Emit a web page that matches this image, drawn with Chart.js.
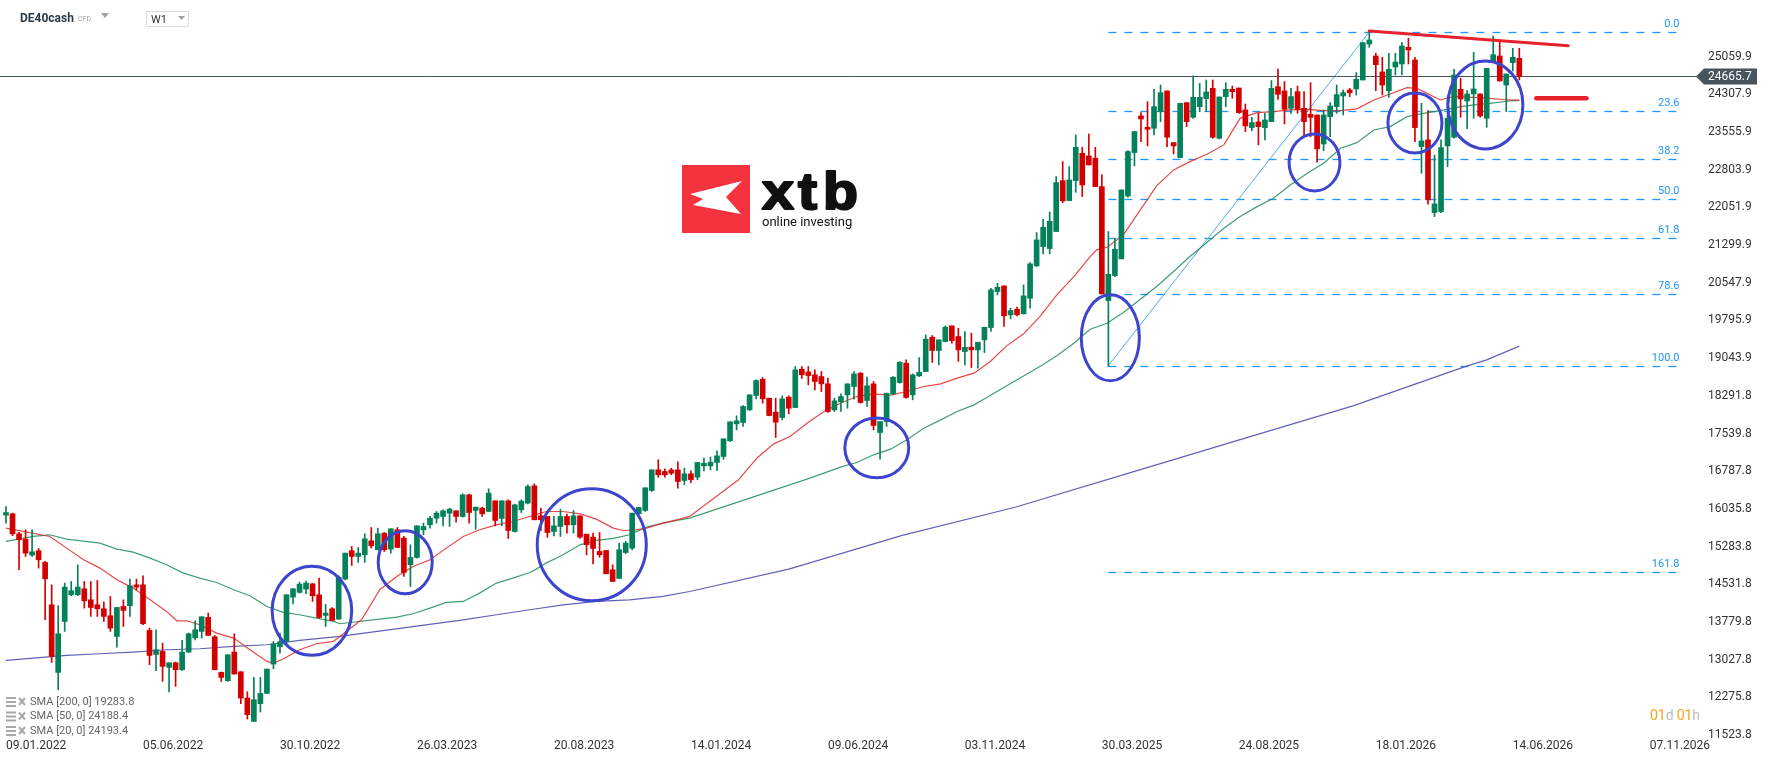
<!DOCTYPE html>
<html>
<head>
<meta charset="utf-8">
<title>DE40cash W1</title>
<script src="https://cdn.jsdelivr.net/npm/chart.js@4.4.1/dist/chart.umd.min.js"></script>
<style>
  html, body { margin: 0; padding: 0; background: #fff; }
  #wrap { position: relative; width: 1768px; height: 761px; }
</style>
</head>
<body>
<div id="wrap"><canvas id="chart"></canvas></div>
<script>
// weekly candles, index 0 = week of 09.01.2022
const xTickLabels = ['09.01.2022', '05.06.2022', '30.10.2022', '26.03.2023', '20.08.2023', '14.01.2024',
  '09.06.2024', '03.11.2024', '30.03.2025', '24.08.2025', '18.01.2026', '14.06.2026', '07.11.2026'];
const weeksPerTick = 21;

const yTickLabels = ['25059.9', '24307.9', '23555.9', '22803.9', '22051.9', '21299.9', '20547.9', '19795.9',
  '19043.9', '18291.8', '17539.8', '16787.8', '16035.8', '15283.8', '14531.8', '13779.8', '13027.8',
  '12275.8', '11523.8'];

// [open, high, low, close]
const ohlc = [
  [15911, 16084, 15752, 15964], [15938, 15951, 15500, 15539], [15539, 15566, 14821, 15419], [15432, 15619, 15087, 15153],
  [15113, 15619, 15087, 15180], [15200, 15246, 14854, 15020], [14967, 14990, 13823, 14641], [14122, 14521, 12972, 13092],
  [12773, 14103, 12427, 13544], [13790, 14555, 13591, 14475], [14322, 14588, 14302, 14402], [14322, 14920, 14302, 14475],
  [14442, 14588, 14056, 14202], [14222, 14588, 13890, 14069], [14122, 14608, 13890, 14043], [14043, 14182, 13790, 13890],
  [13903, 14289, 13591, 13657], [13491, 14069, 13278, 14069], [14089, 14222, 13690, 14010], [14103, 14635, 13890, 14502],
  [14521, 14635, 14420, 14475], [14521, 14701, 13724, 13744], [13611, 13657, 12926, 13112], [13132, 13624, 12806, 13225],
  [13192, 13358, 12593, 12893], [12873, 12966, 12381, 12966], [12966, 12980, 12494, 12826], [12826, 13411, 12813, 13178],
  [13178, 13560, 13172, 13544], [13464, 13803, 13420, 13624], [13591, 13883, 13458, 13883], [13870, 13956, 13511, 13511],
  [13484, 13511, 12826, 12826], [12773, 12780, 12593, 12673], [12607, 13125, 12593, 13125], [13178, 13544, 12740, 12740],
  [12786, 12786, 12148, 12261], [12261, 12387, 11842, 11928], [11795, 12673, 11795, 12228], [12148, 12673, 11982, 12354],
  [12354, 12839, 12350, 12839], [12939, 13391, 12846, 13338], [13285, 13557, 13158, 13385], [13391, 14322, 13358, 14322],
  [14275, 14442, 14142, 14442], [14369, 14575, 14355, 14535], [14435, 14595, 14342, 14555], [14541, 14545, 14189, 14302],
  [14322, 14655, 13857, 13870], [13910, 14129, 13690, 13956], [14043, 14069, 13810, 13810], [13837, 14701, 13830, 14674],
  [14634, 15153, 14620, 15153], [15200, 15286, 14907, 15087], [15087, 15266, 14967, 15153], [15120, 15539, 14967, 15439],
  [15399, 15665, 15253, 15299], [15220, 15652, 15220, 15539], [15552, 15565, 15186, 15220], [15233, 15639, 15153, 15639],
  [15619, 15665, 15266, 15266], [15453, 15486, 14688, 14767], [14920, 15319, 14488, 15067], [15067, 15698, 15053, 15698],
  [15618, 15752, 15519, 15685], [15718, 15885, 15652, 15851], [15851, 15984, 15752, 15951], [15885, 16017, 15698, 15998],
  [15951, 16051, 15685, 16031], [15998, 16000, 15771, 15885], [15885, 16337, 15871, 16317], [16317, 16330, 15752, 15964],
  [16005, 16071, 15632, 16071], [16051, 16071, 15885, 15938], [15984, 16436, 15978, 16350], [16197, 16197, 15698, 15805],
  [15845, 16197, 15698, 16197], [16197, 16217, 15446, 15605], [15585, 16131, 15572, 16117], [16017, 16217, 15964, 16191],
  [16151, 16516, 16137, 16483], [16496, 16536, 15818, 15818], [15898, 16051, 15605, 15818], [15885, 15885, 15466, 15565],
  [15585, 15885, 15499, 15698], [15685, 16031, 15486, 15885], [15885, 15931, 15552, 15718], [15718, 16004, 15552, 15898],
  [15898, 15898, 15446, 15472], [15532, 15532, 15120, 15320], [15472, 15552, 14940, 15246], [15187, 15565, 15073, 15120],
  [15206, 15206, 14741, 14741], [14821, 14920, 14588, 14588], [14648, 15353, 14648, 15220], [15166, 15386, 15140, 15353],
  [15253, 15951, 15220, 15951], [15938, 16071, 15918, 16064], [16004, 16457, 15984, 16457], [16403, 16815, 16383, 16815],
  [16815, 17015, 16669, 16716], [16782, 16835, 16669, 16716], [16815, 16848, 16716, 16749], [16815, 16975, 16450, 16583],
  [16603, 16848, 16516, 16736], [16736, 16796, 16560, 16620], [16669, 16962, 16616, 16962], [16895, 17048, 16796, 16948],
  [16895, 17068, 16815, 16968], [16962, 17195, 16802, 17095], [17082, 17434, 17028, 17434], [17394, 17773, 17381, 17773],
  [17733, 17893, 17613, 17793], [17760, 18099, 17680, 18079], [18012, 18312, 18000, 18312], [18298, 18611, 18232, 18597],
  [18624, 18657, 18145, 18232], [18245, 18245, 17893, 17899], [17966, 18245, 17461, 17766], [17859, 18292, 17813, 18232],
  [18265, 18292, 17933, 18045], [18059, 18877, 18059, 18810], [18824, 18877, 18637, 18711], [18770, 18877, 18511, 18697],
  [18711, 18810, 18411, 18578], [18677, 18777, 18378, 18531], [18531, 18644, 17959, 17979], [18012, 18245, 17979, 18192],
  [18172, 18332, 17979, 18278], [18312, 18531, 18045, 18531], [18478, 18777, 18225, 18730], [18744, 18757, 18145, 18159],
  [18199, 18664, 18079, 18491], [18531, 18578, 17613, 17700], [17560, 17780, 17028, 17780], [17780, 18345, 17680, 18345],
  [18332, 18677, 18312, 18664], [18557, 18976, 18544, 18962], [18943, 19010, 18245, 18259], [18312, 18730, 18212, 18710],
  [18690, 19057, 18677, 18763], [18777, 19509, 18777, 19422], [19462, 19495, 18957, 19196], [19196, 19409, 18910, 19409],
  [19376, 19688, 19369, 19661], [19688, 19688, 19342, 19395], [19475, 19642, 18980, 19209], [19176, 19575, 18910, 19262],
  [19262, 19542, 18857, 19209], [19209, 19362, 18844, 19362], [19409, 19661, 19156, 19661], [19655, 20439, 19575, 20406],
  [20373, 20539, 20306, 20459], [20486, 20486, 19675, 19888], [19908, 20041, 19828, 19994], [20021, 20061, 19888, 19908],
  [19928, 20506, 19928, 20287], [20240, 20952, 20041, 20925], [20885, 21550, 20872, 21404], [21271, 21816, 21124, 21656],
  [21231, 21962, 21124, 21776], [21570, 22667, 21570, 22547], [22587, 22966, 22148, 22181], [22188, 22866, 22188, 22600],
  [22587, 23498, 22354, 23252], [23132, 23252, 22268, 22501], [23079, 23518, 22900, 22900], [23033, 23252, 22467, 22467],
  [22467, 22700, 20326, 20326], [20193, 21570, 18880, 20718], [20692, 21437, 20672, 21218], [21025, 22401, 21025, 22401],
  [22281, 23186, 22255, 23166], [23146, 23565, 22880, 23565], [23877, 23944, 23365, 23817], [23651, 24163, 23279, 23611],
  [23631, 24409, 23498, 24063], [23963, 24495, 23764, 24342], [24376, 24376, 23265, 23452], [23345, 23345, 23119, 23279],
  [23046, 24130, 23046, 24130], [24143, 24143, 23664, 23764], [23850, 24675, 23830, 24249], [24063, 24528, 23963, 24249],
  [24223, 24595, 23963, 24356], [24429, 24595, 23432, 23452], [23432, 24256, 23418, 24256], [24263, 24542, 24063, 24409],
  [24409, 24475, 24229, 24362], [24435, 24435, 23930, 23944], [23997, 24116, 23565, 23678], [23645, 23850, 23585, 23744],
  [23758, 23930, 23299, 23664], [23645, 23930, 23398, 23797], [23764, 24582, 23764, 24429], [24462, 24814, 24209, 24309],
  [24376, 24562, 23717, 24010], [24030, 24429, 23930, 24263], [24362, 24475, 23930, 24010], [24030, 24362, 23465, 23764],
  [23910, 24542, 23465, 23850], [23897, 23897, 22953, 23219], [23318, 23997, 23186, 23897], [23864, 24143, 23465, 24076],
  [24063, 24495, 23930, 24302], [24276, 24396, 23897, 24342], [24396, 24429, 24263, 24342], [24416, 24741, 24296, 24608],
  [24595, 25340, 24595, 25340], [25313, 25560, 25247, 25393], [25074, 25127, 24382, 24901], [24755, 25047, 24296, 24495],
  [24382, 25127, 24249, 24808], [24854, 25127, 24695, 24954], [24914, 25340, 24695, 25273], [25247, 25426, 24914, 25194],
  [24994, 25047, 23365, 23645], [23266, 24130, 22733, 23379], [23399, 23984, 22115, 22202], [21949, 23099, 21869, 22122],
  [21969, 23399, 21949, 23246], [23279, 24263, 22866, 23831], [23452, 24808, 23432, 24695], [24409, 24628, 23851, 24216],
  [24176, 24382, 23625, 24316], [24316, 25147, 23831, 24416], [24316, 24316, 23851, 23877], [23831, 24828, 23651, 24828],
  [24947, 25473, 24947, 25100], [25074, 25360, 24575, 24575], [24495, 24715, 23964, 24715], [24941, 25227, 24774, 25047],
  [25027, 25227, 24595, 24666]
];

// moving averages: [week index, value]
const sma20 = [
  [0, 15652], [6.7, 15486], [9.3, 15253], [11.9, 15020], [14.4, 14854], [17, 14621], [19.5, 14455], [22.1, 14222],
  [24.6, 13990], [26.2, 13803], [27.7, 13803], [29.7, 13724], [32.3, 13557], [34.9, 13458], [37.4, 13225], [40, 12992],
  [41, 12959], [42.5, 13039], [45, 13225], [47.6, 13345], [50.2, 13391], [54.5, 13823], [57.3, 14422], [59.9, 14688],
  [62.4, 14887], [65, 15020], [67.5, 15253], [70.1, 15486], [72.6, 15619], [75.2, 15718], [77.7, 15785], [80.3, 15885],
  [82.8, 15984], [85.4, 15984], [88, 15938], [90.5, 15831], [93.1, 15652], [94.6, 15605], [96.6, 15619], [98.2, 15652],
  [100.7, 15752], [103.3, 15831], [104.8, 15885], [112.3, 16616], [115.1, 17048], [117.7, 17334], [120.2, 17481],
  [122.8, 17746], [125.4, 17979], [127.9, 18145], [130.4, 18278], [133, 18332], [135.6, 18305], [138.1, 18378],
  [140.7, 18478], [143.3, 18531], [145.8, 18644], [148.4, 18744], [150.9, 18977], [153.4, 19289], [156, 19529],
  [158.5, 19874], [161.1, 20307], [163.7, 20672], [166.2, 21071], [167.2, 21204], [168.8, 21257], [171.3, 21503],
  [173.9, 22002], [176.4, 22481], [179, 22800], [181.5, 22966], [184.1, 23112], [186.7, 23299], [189.2, 23830],
  [191.8, 23944], [194.3, 23964], [196.9, 23997], [199.5, 24010], [202, 23984], [204.6, 23984], [207.1, 24020],
  [209.7, 24196], [212.2, 24316], [214.8, 24442], [216.3, 24429], [217.3, 24362], [219.9, 24196], [221.4, 24249],
  [222.4, 24263], [225, 24249], [227.5, 24229], [230.1, 24196], [232, 24193]
];
const sma50 = [
  [0, 15386], [4.2, 15486], [6.7, 15519], [9.3, 15432], [14.4, 15353], [17, 15233], [19.5, 15173], [22.1, 15053],
  [24.6, 14920], [27.2, 14754], [29.7, 14655], [32.3, 14568], [34.9, 14422], [37.4, 14302], [40, 14089], [42.5, 13970],
  [45, 13923], [47.6, 13857], [50.2, 13790], [51.2, 13744], [57.3, 13836], [59.9, 13876], [62.4, 13943], [65, 14056],
  [67.5, 14169], [70.1, 14189], [72.6, 14355], [75.2, 14555], [77.7, 14655], [80.3, 14767], [81.3, 14834], [82.8, 14954],
  [85.4, 15120], [88, 15319], [90.5, 15406], [93.1, 15446], [95.6, 15519], [98.2, 15672], [100.7, 15752], [103.3, 15818],
  [104.8, 15851], [122.8, 16629], [125.4, 16749], [127.9, 16869], [130.4, 16962], [133, 17115], [135.6, 17228],
  [138.1, 17414], [140.7, 17647], [143.3, 17813], [145.8, 17979], [148.4, 18112], [149.9, 18225], [152.5, 18425],
  [155.4, 18644], [158.5, 18877], [161.1, 19090], [163.7, 19342], [166.2, 19621], [168.8, 19741], [171.3, 19954],
  [173.9, 20220], [176.4, 20473], [179, 20772], [181.5, 21071], [184.1, 21351], [186.7, 21636], [189.2, 21869],
  [191.8, 22068], [194.3, 22235], [196.9, 22501], [199.5, 22733], [202, 22933], [204.6, 23232], [207.1, 23345],
  [209.7, 23598], [212.2, 23664], [214.8, 23864], [217.3, 23930], [219.9, 23984], [222.4, 24050], [225, 24097],
  [227.5, 24130], [230.1, 24170], [232, 24188]
];
const sma200 = [
  [0, 13012], [4.2, 13059], [9.3, 13112], [14.4, 13145], [19.5, 13178], [24.6, 13225], [29.7, 13245], [34.9, 13291],
  [40, 13325], [45, 13411], [51.2, 13491], [70.1, 13823], [75.2, 13923], [80.3, 14023], [85.4, 14122], [90.5, 14189],
  [95.6, 14222], [100.7, 14289], [104.8, 14388], [120, 14833], [137.4, 15507], [154.7, 16069], [172, 16744],
  [189.2, 17418], [206.5, 18092], [223.8, 18880], [227, 19010], [232, 19284]
];

const lastPrice = '24665.7';
const smaLegend = ['SMA [200, 0] 19283.8', 'SMA [50, 0] 24188.4', 'SMA [20, 0] 24193.4'];

// drawing tools placed on the chart (week index / price)
const fibHigh = 25553, fibLow = 18896;
const fibLevels = [0, 23.6, 38.2, 50, 61.8, 78.6, 100, 161.8];
const fibFrom = 169, fibTo = 256.4, fibTopWeek = 209;
const trendLine = [[209, 25573], [239.5, 25279]];
const supportMark = [[234.6, 24230], [242.3, 24230]];
// [week, price, radius in weeks, radius in price]
const circles = [
  [46.9, 14003, 6.1, 888], [61.2, 14970, 4.14, 628], [89.8, 15319, 8.36, 1117], [133.5, 17254, 4.9, 598],
  [169.3, 19449, 4.45, 858], [200.6, 22949, 3.9, 569], [216, 23737, 4.14, 598], [226.8, 24097, 5.75, 878]
];

const GREEN = '#04805a';
const RED = '#d40000';

const bodies = ohlc.map((c, i) => ({ x: i, y: [c[0], c[3]] }));
const wicks = ohlc.map((c, i) => ({ x: i, y: [c[2], c[1]] }));
const candleColors = ohlc.map(c => (c[3] >= c[0] ? GREEN : RED));
const toPoints = arr => arr.map(p => ({ x: p[0], y: p[1] }));

function drawLogo(ctx) {
  ctx.save();
  ctx.fillStyle = '#f5333f';
  ctx.fillRect(682, 165, 68, 68);
  ctx.fillStyle = '#fff';
  ctx.beginPath();
  ctx.moveTo(690, 194);
  ctx.lineTo(742, 181);
  ctx.lineTo(726, 197);
  ctx.lineTo(741, 214);
  ctx.lineTo(693, 205);
  ctx.lineTo(703, 199);
  ctx.closePath();
  ctx.fill();
  ctx.fillStyle = '#111';
  ctx.strokeStyle = '#111';
  ctx.lineWidth = 2.2;
  ctx.lineJoin = 'round';
  ctx.font = 'bold 52px "Liberation Sans"';
  ctx.textBaseline = 'alphabetic';
  [['x', 762], ['t', 798], ['b', 823]].forEach(l => {
    ctx.save();
    ctx.translate(l[1], 209);
    ctx.scale(1.1, 1);
    ctx.fillText(l[0], 0, 0);
    ctx.strokeText(l[0], 0, 0);
    ctx.restore();
  });
  ctx.font = '13px Roboto';
  ctx.fillText('online investing', 762, 226);
  ctx.restore();
}

function triangle(ctx, x, y, w, h, color) {
  ctx.fillStyle = color;
  ctx.beginPath();
  ctx.moveTo(x, y);
  ctx.lineTo(x + w, y);
  ctx.lineTo(x + w / 2, y + h);
  ctx.closePath();
  ctx.fill();
}

const overlay = {
  id: 'overlay',
  beforeDatasetsDraw(chart) {
    const { ctx, chartArea } = chart;
    const x = chart.scales.x, y = chart.scales.y;
    drawLogo(ctx);

    // fibonacci retracement
    ctx.save();
    ctx.strokeStyle = '#2196f3';
    ctx.fillStyle = '#2196f3';
    ctx.lineWidth = 1.3;
    ctx.setLineDash([8, 8]);
    ctx.font = '11px Roboto';
    ctx.textAlign = 'right';
    ctx.textBaseline = 'bottom';
    const x0 = x.getPixelForValue(fibFrom), x1 = x.getPixelForValue(fibTo);
    fibLevels.forEach(lv => {
      const py = Math.round(y.getPixelForValue(fibHigh - (fibHigh - fibLow) * lv / 100)) + 0.5;
      ctx.beginPath();
      ctx.moveTo(x0, py);
      ctx.lineTo(x1, py);
      ctx.stroke();
      ctx.fillText(lv.toFixed(1), x1 + 1, py - 3);
    });
    ctx.setLineDash([]);
    ctx.strokeStyle = '#4aa8f5';
    ctx.lineWidth = 1;
    ctx.beginPath();
    ctx.moveTo(x0, y.getPixelForValue(fibLow));
    ctx.lineTo(x.getPixelForValue(fibTopWeek), y.getPixelForValue(fibHigh));
    ctx.stroke();

    // last price line
    const pyLast = Math.round(y.getPixelForValue(parseFloat(lastPrice))) + 0.5;
    ctx.strokeStyle = '#47545e';
    ctx.beginPath();
    ctx.moveTo(0, pyLast);
    ctx.lineTo(chartArea.right - 3, pyLast);
    ctx.stroke();
    ctx.restore();
  },
  afterDatasetsDraw(chart) {
    const { ctx } = chart;
    const x = chart.scales.x, y = chart.scales.y;
    ctx.save();
    ctx.lineCap = 'round';
    ctx.strokeStyle = '#e8222c';
    ctx.lineWidth = 3;
    ctx.beginPath();
    ctx.moveTo(x.getPixelForValue(trendLine[0][0]), y.getPixelForValue(trendLine[0][1]));
    ctx.lineTo(x.getPixelForValue(trendLine[1][0]), y.getPixelForValue(trendLine[1][1]));
    ctx.stroke();
    ctx.lineWidth = 4.5;
    ctx.beginPath();
    ctx.moveTo(x.getPixelForValue(supportMark[0][0]), y.getPixelForValue(supportMark[0][1]));
    ctx.lineTo(x.getPixelForValue(supportMark[1][0]), y.getPixelForValue(supportMark[1][1]));
    ctx.stroke();

    ctx.strokeStyle = '#3d45cc';
    ctx.lineWidth = 3;
    circles.forEach(c => {
      const cx = x.getPixelForValue(c[0]);
      const cy = y.getPixelForValue(c[1]);
      const rx = Math.abs(x.getPixelForValue(c[0] + c[2]) - cx);
      const ry = Math.abs(y.getPixelForValue(c[1] + c[3]) - cy);
      ctx.beginPath();
      ctx.ellipse(cx, cy, rx, ry, 0, 0, Math.PI * 2);
      ctx.stroke();
    });
    ctx.restore();
  },
  afterDraw(chart) {
    const { ctx } = chart;
    const y = chart.scales.y;
    ctx.save();
    // header
    ctx.textBaseline = 'alphabetic';
    ctx.fillStyle = '#2b3a47';
    ctx.font = 'bold 12px Roboto';
    ctx.fillText('DE40cash', 20, 22);
    ctx.fillStyle = '#9aa3ab';
    ctx.font = '7px Roboto';
    ctx.fillText('CFD', 78, 21);
    triangle(ctx, 101, 13, 8, 5, '#9aa3ab');
    ctx.strokeStyle = '#dcdcdc';
    ctx.lineWidth = 1;
    ctx.strokeRect(146.5, 11.5, 42, 15);
    ctx.fillStyle = '#333';
    ctx.font = '11px Roboto';
    ctx.fillText('W1', 151, 23);
    triangle(ctx, 178, 16, 7, 4, '#9aa3ab');

    // last price tag
    const py = y.getPixelForValue(parseFloat(lastPrice));
    ctx.fillStyle = '#47545e';
    ctx.beginPath();
    ctx.moveTo(1696, py);
    ctx.lineTo(1704, py - 8);
    ctx.lineTo(1757, py - 8);
    ctx.lineTo(1757, py + 8);
    ctx.lineTo(1704, py + 8);
    ctx.closePath();
    ctx.fill();
    ctx.fillStyle = '#fff';
    ctx.font = '12px Roboto';
    ctx.textBaseline = 'middle';
    ctx.fillText(lastPrice, 1708, py + 0.5);

    // indicator legend
    ctx.font = '11px Roboto';
    smaLegend.forEach((t, k) => {
      const ly = 702 + k * 14.5;
      ctx.fillStyle = '#a8a8a8';
      ctx.fillRect(6, ly - 5, 10, 2);
      ctx.fillRect(6, ly - 1, 10, 2);
      ctx.fillRect(6, ly + 3, 10, 2);
      ctx.strokeStyle = '#a8a8a8';
      ctx.lineWidth = 2;
      ctx.beginPath();
      ctx.moveTo(19, ly - 4); ctx.lineTo(25, ly + 3);
      ctx.moveTo(25, ly - 4); ctx.lineTo(19, ly + 3);
      ctx.stroke();
      ctx.fillStyle = '#666';
      ctx.fillText(t, 30, ly);
    });

    // candle countdown
    ctx.font = '14px Roboto';
    let cx = 1650;
    [['01', '#f5a31f'], ['d', '#bdbdbd'], ['01', '#f5a31f'], ['h', '#bdbdbd']].forEach((p, k) => {
      ctx.fillStyle = p[1];
      ctx.fillText(p[0], cx, 716);
      cx += ctx.measureText(p[0]).width + (k === 1 ? 3 : 0);
    });
    ctx.restore();
  }
};

Chart.defaults.font.family = 'Roboto';

new Chart(document.getElementById('chart'), {
  type: 'bar',
  data: {
    datasets: [
      {
        label: 'body',
        data: bodies,
        backgroundColor: candleColors,
        barThickness: 5,
        minBarLength: 1,
        grouped: false,
        order: 0
      },
      {
        label: 'wick',
        data: wicks,
        backgroundColor: candleColors,
        barThickness: 1,
        grouped: false,
        order: 1
      },
      {
        type: 'line',
        label: 'SMA 20',
        data: toPoints(sma20),
        borderColor: 'rgba(226, 40, 40, 0.85)',
        borderWidth: 1.2,
        pointRadius: 0,
        order: 2
      },
      {
        type: 'line',
        label: 'SMA 50',
        data: toPoints(sma50),
        borderColor: 'rgba(30, 140, 90, 0.85)',
        borderWidth: 1.2,
        pointRadius: 0,
        order: 3
      },
      {
        type: 'line',
        label: 'SMA 200',
        data: toPoints(sma200),
        borderColor: 'rgba(80, 80, 175, 0.9)',
        borderWidth: 1.2,
        pointRadius: 0,
        order: 4
      }
    ]
  },
  options: {
    responsive: true,
    maintainAspectRatio: false,
    animation: false,
    layout: { padding: 0 },
    plugins: {
      legend: { display: false },
      tooltip: { enabled: false }
    },
    scales: {
      x: {
        type: 'linear',
        offset: false,
        min: -0.92,
        max: 259.7,
        grid: { display: false, drawTicks: false },
        border: { display: false },
        afterBuildTicks: s => { s.ticks = xTickLabels.map((t, k) => ({ value: k * weeksPerTick })); },
        afterFit: s => { s.height = 26; s.paddingLeft = 0; s.paddingRight = 0; },
        ticks: {
          autoSkip: false,
          maxRotation: 0,
          align: 'start',
          padding: 4,
          color: '#333',
          font: { size: 12 },
          callback: (v, idx) => xTickLabels[idx]
        }
      },
      y: {
        position: 'right',
        min: 11523.8,
        max: 26191,
        grid: { display: false, drawTicks: false },
        border: { display: false },
        afterBuildTicks: s => { s.ticks = yTickLabels.map(t => ({ value: parseFloat(t) })); },
        afterFit: s => { s.width = 68; s.paddingTop = 0; s.paddingBottom = 0; },
        ticks: {
          padding: 8,
          color: '#333',
          font: { size: 12 },
          callback: (v, idx) => yTickLabels[idx]
        }
      }
    }
  },
  plugins: [overlay]
});
</script>
</body>
</html>
